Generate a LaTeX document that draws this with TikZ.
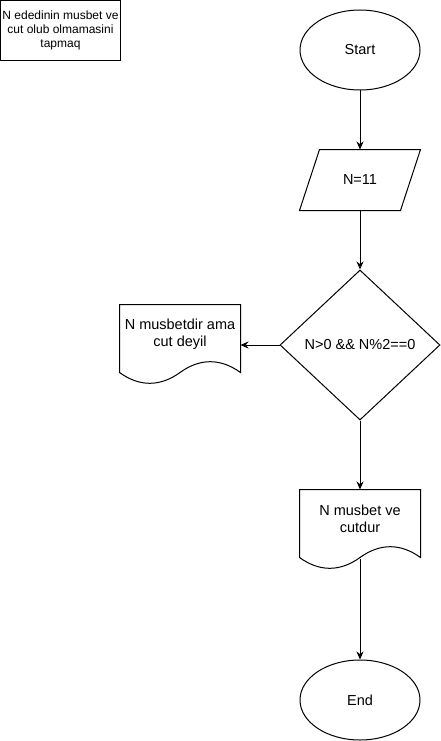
\documentclass[tikz,border=0pt]{standalone}
\usepackage{fontspec}
\setmainfont{Liberation Sans}
\usetikzlibrary{arrows.meta, shapes.geometric}

\tikzset{
  terminal/.style={ellipse, draw, minimum width=120pt, minimum height=80pt, inner sep=0pt},
  iobox/.style={rectangle, minimum width=120pt, minimum height=60pt, inner sep=0pt},
  decision/.style={diamond, draw, minimum width=160pt, minimum height=150pt, inner sep=0pt, aspect=1.07},
  docbox/.style={rectangle, minimum width=120pt, minimum height=58pt, inner sep=0pt, align=center},
  flow/.style={-{Stealth[length=8pt, width=7pt]}},
}
\newcommand{\docoutline}[1]{%
  \draw (#1.north west) -- (#1.north east) -- ([yshift=-68pt]#1.north east)
    .. controls +(-20,-14.4) and +(20,-14.4) .. ([yshift=-68pt]#1.north)
    .. controls +(-20,14.4) and +(20,14.4) .. ([yshift=-68pt]#1.north west) -- cycle;}

\begin{document}
\begin{tikzpicture}[x=1pt, y=-1pt, line width=1pt, font=\fontsize{14.5}{17}\selectfont]
    \useasboundingbox (0,0) rectangle (441,741);

    \node[draw, rectangle, minimum width=120pt, minimum height=60pt, inner sep=0pt, align=center,
      font=\fontsize{12}{14}\selectfont] (title) at (60.5,30.5) {N ededinin musbet ve\\cut olub olmamasini\\tapmaq};

    \node[terminal] (start) at (360,50) {Start};
    \node[iobox] (inp) at (360,180) {N=11};
    \draw ([xshift=20pt]inp.north west) -- (inp.north east) -- ([xshift=-20pt]inp.south east) -- (inp.south west) -- cycle;
    \node[decision] (cond) at (360,345) {N>0 \&\& N\%2==0};
    \node[docbox] (neg) at (180,334) {N musbetdir ama\\cut deyil};
    \docoutline{neg}
    \node[docbox] (pos) at (360,519) {N musbet ve\\cutdur};
    \docoutline{pos}
    \node[terminal] (end) at (360,700) {End};

    \draw[flow] (start) -- (inp);
    \draw[flow] (inp) -- (cond);
    \draw[flow] (cond.west) -- (cond.west -| neg.east);
    \draw[flow] (cond) -- (pos);
    \draw[flow] ([yshift=-10pt]pos.south) -- (end);
\end{tikzpicture}
\end{document}
